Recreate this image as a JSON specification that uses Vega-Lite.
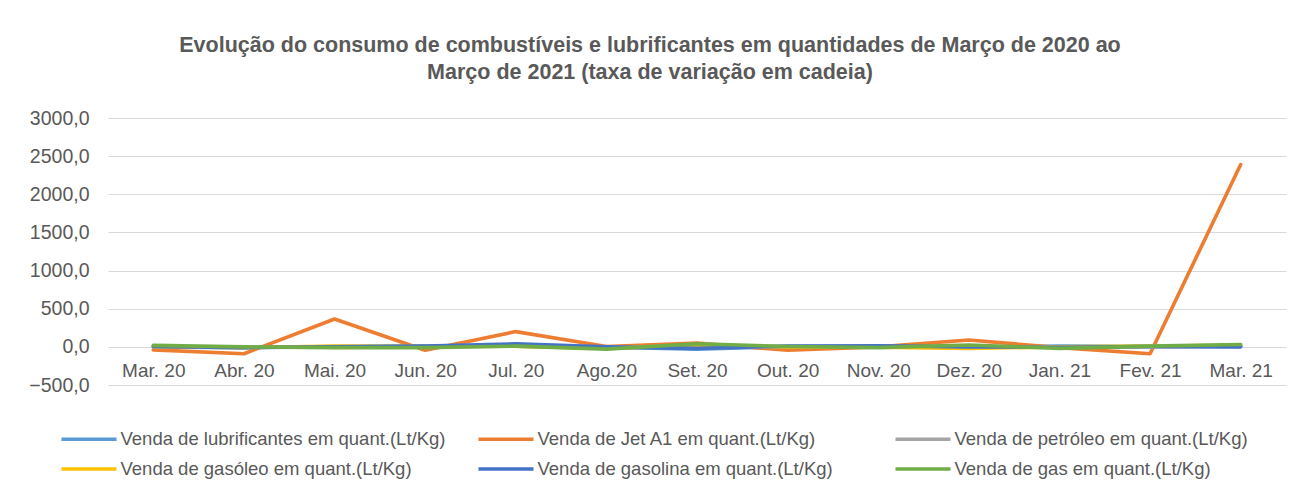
{
  "$schema": "https://vega.github.io/schema/vega-lite/v6.json",
  "width": 1178,
  "height": 267,
  "autosize": {"type": "none"},
  "padding": {"left": 108, "top": 118, "right": 15, "bottom": 105},
  "background": "white",
  "title": {
    "text": ["Evolução do consumo de combustíveis e lubrificantes em quantidades de Março de 2020 ao", "Março de 2021 (taxa de variação em cadeia)"],
    "anchor": "middle",
    "dx": -47,
    "font": "Liberation Sans",
    "fontSize": 21.5,
    "fontWeight": "bold",
    "color": "#595959",
    "lineHeight": 27,
    "offset": 25
  },
  "data": {
    "values": [
      {"mes": "Mar. 20", "serie": "Venda de lubrificantes em quant.(Lt/Kg)", "valor": 0},
      {"mes": "Abr. 20", "serie": "Venda de lubrificantes em quant.(Lt/Kg)", "valor": -10},
      {"mes": "Mai. 20", "serie": "Venda de lubrificantes em quant.(Lt/Kg)", "valor": 5},
      {"mes": "Jun. 20", "serie": "Venda de lubrificantes em quant.(Lt/Kg)", "valor": 10},
      {"mes": "Jul. 20", "serie": "Venda de lubrificantes em quant.(Lt/Kg)", "valor": 20},
      {"mes": "Ago.20", "serie": "Venda de lubrificantes em quant.(Lt/Kg)", "valor": -5},
      {"mes": "Set. 20", "serie": "Venda de lubrificantes em quant.(Lt/Kg)", "valor": -30},
      {"mes": "Out. 20", "serie": "Venda de lubrificantes em quant.(Lt/Kg)", "valor": 5},
      {"mes": "Nov. 20", "serie": "Venda de lubrificantes em quant.(Lt/Kg)", "valor": 0},
      {"mes": "Dez. 20", "serie": "Venda de lubrificantes em quant.(Lt/Kg)", "valor": -10},
      {"mes": "Jan. 21", "serie": "Venda de lubrificantes em quant.(Lt/Kg)", "valor": 10},
      {"mes": "Fev. 21", "serie": "Venda de lubrificantes em quant.(Lt/Kg)", "valor": 5},
      {"mes": "Mar. 21", "serie": "Venda de lubrificantes em quant.(Lt/Kg)", "valor": 5},
      {"mes": "Mar. 20", "serie": "Venda de Jet A1 em quant.(Lt/Kg)", "valor": -40},
      {"mes": "Abr. 20", "serie": "Venda de Jet A1 em quant.(Lt/Kg)", "valor": -90},
      {"mes": "Mai. 20", "serie": "Venda de Jet A1 em quant.(Lt/Kg)", "valor": 365},
      {"mes": "Jun. 20", "serie": "Venda de Jet A1 em quant.(Lt/Kg)", "valor": -45},
      {"mes": "Jul. 20", "serie": "Venda de Jet A1 em quant.(Lt/Kg)", "valor": 200},
      {"mes": "Ago.20", "serie": "Venda de Jet A1 em quant.(Lt/Kg)", "valor": 5},
      {"mes": "Set. 20", "serie": "Venda de Jet A1 em quant.(Lt/Kg)", "valor": 50},
      {"mes": "Out. 20", "serie": "Venda de Jet A1 em quant.(Lt/Kg)", "valor": -45},
      {"mes": "Nov. 20", "serie": "Venda de Jet A1 em quant.(Lt/Kg)", "valor": 0},
      {"mes": "Dez. 20", "serie": "Venda de Jet A1 em quant.(Lt/Kg)", "valor": 90},
      {"mes": "Jan. 21", "serie": "Venda de Jet A1 em quant.(Lt/Kg)", "valor": -10},
      {"mes": "Fev. 21", "serie": "Venda de Jet A1 em quant.(Lt/Kg)", "valor": -90},
      {"mes": "Mar. 21", "serie": "Venda de Jet A1 em quant.(Lt/Kg)", "valor": 2390},
      {"mes": "Mar. 20", "serie": "Venda de petróleo em quant.(Lt/Kg)", "valor": 0},
      {"mes": "Abr. 20", "serie": "Venda de petróleo em quant.(Lt/Kg)", "valor": -5},
      {"mes": "Mai. 20", "serie": "Venda de petróleo em quant.(Lt/Kg)", "valor": 0},
      {"mes": "Jun. 20", "serie": "Venda de petróleo em quant.(Lt/Kg)", "valor": 5},
      {"mes": "Jul. 20", "serie": "Venda de petróleo em quant.(Lt/Kg)", "valor": 10},
      {"mes": "Ago.20", "serie": "Venda de petróleo em quant.(Lt/Kg)", "valor": -10},
      {"mes": "Set. 20", "serie": "Venda de petróleo em quant.(Lt/Kg)", "valor": 10},
      {"mes": "Out. 20", "serie": "Venda de petróleo em quant.(Lt/Kg)", "valor": 0},
      {"mes": "Nov. 20", "serie": "Venda de petróleo em quant.(Lt/Kg)", "valor": 0},
      {"mes": "Dez. 20", "serie": "Venda de petróleo em quant.(Lt/Kg)", "valor": 5},
      {"mes": "Jan. 21", "serie": "Venda de petróleo em quant.(Lt/Kg)", "valor": -5},
      {"mes": "Fev. 21", "serie": "Venda de petróleo em quant.(Lt/Kg)", "valor": 0},
      {"mes": "Mar. 21", "serie": "Venda de petróleo em quant.(Lt/Kg)", "valor": 10},
      {"mes": "Mar. 20", "serie": "Venda de gasóleo em quant.(Lt/Kg)", "valor": 5},
      {"mes": "Abr. 20", "serie": "Venda de gasóleo em quant.(Lt/Kg)", "valor": -10},
      {"mes": "Mai. 20", "serie": "Venda de gasóleo em quant.(Lt/Kg)", "valor": 10},
      {"mes": "Jun. 20", "serie": "Venda de gasóleo em quant.(Lt/Kg)", "valor": 5},
      {"mes": "Jul. 20", "serie": "Venda de gasóleo em quant.(Lt/Kg)", "valor": 10},
      {"mes": "Ago.20", "serie": "Venda de gasóleo em quant.(Lt/Kg)", "valor": -20},
      {"mes": "Set. 20", "serie": "Venda de gasóleo em quant.(Lt/Kg)", "valor": 20},
      {"mes": "Out. 20", "serie": "Venda de gasóleo em quant.(Lt/Kg)", "valor": 0},
      {"mes": "Nov. 20", "serie": "Venda de gasóleo em quant.(Lt/Kg)", "valor": -5},
      {"mes": "Dez. 20", "serie": "Venda de gasóleo em quant.(Lt/Kg)", "valor": -20},
      {"mes": "Jan. 21", "serie": "Venda de gasóleo em quant.(Lt/Kg)", "valor": 0},
      {"mes": "Fev. 21", "serie": "Venda de gasóleo em quant.(Lt/Kg)", "valor": 10},
      {"mes": "Mar. 21", "serie": "Venda de gasóleo em quant.(Lt/Kg)", "valor": 20},
      {"mes": "Mar. 20", "serie": "Venda de gasolina em quant.(Lt/Kg)", "valor": 5},
      {"mes": "Abr. 20", "serie": "Venda de gasolina em quant.(Lt/Kg)", "valor": -10},
      {"mes": "Mai. 20", "serie": "Venda de gasolina em quant.(Lt/Kg)", "valor": 0},
      {"mes": "Jun. 20", "serie": "Venda de gasolina em quant.(Lt/Kg)", "valor": 10},
      {"mes": "Jul. 20", "serie": "Venda de gasolina em quant.(Lt/Kg)", "valor": 40},
      {"mes": "Ago.20", "serie": "Venda de gasolina em quant.(Lt/Kg)", "valor": 0},
      {"mes": "Set. 20", "serie": "Venda de gasolina em quant.(Lt/Kg)", "valor": -20},
      {"mes": "Out. 20", "serie": "Venda de gasolina em quant.(Lt/Kg)", "valor": 10},
      {"mes": "Nov. 20", "serie": "Venda de gasolina em quant.(Lt/Kg)", "valor": 15},
      {"mes": "Dez. 20", "serie": "Venda de gasolina em quant.(Lt/Kg)", "valor": 0},
      {"mes": "Jan. 21", "serie": "Venda de gasolina em quant.(Lt/Kg)", "valor": -5},
      {"mes": "Fev. 21", "serie": "Venda de gasolina em quant.(Lt/Kg)", "valor": 5},
      {"mes": "Mar. 21", "serie": "Venda de gasolina em quant.(Lt/Kg)", "valor": 0},
      {"mes": "Mar. 20", "serie": "Venda de gas em quant.(Lt/Kg)", "valor": 20},
      {"mes": "Abr. 20", "serie": "Venda de gas em quant.(Lt/Kg)", "valor": 0},
      {"mes": "Mai. 20", "serie": "Venda de gas em quant.(Lt/Kg)", "valor": -10},
      {"mes": "Jun. 20", "serie": "Venda de gas em quant.(Lt/Kg)", "valor": -10},
      {"mes": "Jul. 20", "serie": "Venda de gas em quant.(Lt/Kg)", "valor": 10},
      {"mes": "Ago.20", "serie": "Venda de gas em quant.(Lt/Kg)", "valor": -30},
      {"mes": "Set. 20", "serie": "Venda de gas em quant.(Lt/Kg)", "valor": 40},
      {"mes": "Out. 20", "serie": "Venda de gas em quant.(Lt/Kg)", "valor": 5},
      {"mes": "Nov. 20", "serie": "Venda de gas em quant.(Lt/Kg)", "valor": -10},
      {"mes": "Dez. 20", "serie": "Venda de gas em quant.(Lt/Kg)", "valor": 25},
      {"mes": "Jan. 21", "serie": "Venda de gas em quant.(Lt/Kg)", "valor": -20},
      {"mes": "Fev. 21", "serie": "Venda de gas em quant.(Lt/Kg)", "valor": 10},
      {"mes": "Mar. 21", "serie": "Venda de gas em quant.(Lt/Kg)", "valor": 30}
    ]
  },
  "mark": {"type": "line", "strokeWidth": 3.6, "strokeCap": "round", "strokeJoin": "round"},
  "encoding": {
    "x": {
      "field": "mes",
      "type": "ordinal",
      "sort": null,
      "scale": {"type": "point", "padding": 0.5},
      "axis": {
        "title": null,
        "labelAngle": 0,
        "labelFont": "Liberation Sans",
        "labelFontSize": 19,
        "labelColor": "#595959",
        "domain": false,
        "ticks": false,
        "grid": false,
        "offset": -38,
        "labelPadding": 14
      }
    },
    "y": {
      "field": "valor",
      "type": "quantitative",
      "scale": {"domain": [-500, 3000], "nice": false, "zero": false},
      "axis": {
        "title": null,
        "values": [-500, 0, 500, 1000, 1500, 2000, 2500, 3000],
        "labelExpr": "replace(format(datum.value, '.1f'), '.', ',')",
        "labelFont": "Liberation Sans",
        "labelFontSize": 19.5,
        "labelColor": "#595959",
        "labelPadding": 19,
        "domain": false,
        "ticks": false,
        "grid": true,
        "gridColor": "#D9D9D9",
        "gridWidth": 1
      }
    },
    "color": {
      "field": "serie",
      "type": "nominal",
      "scale": {
        "domain": ["Venda de lubrificantes em quant.(Lt/Kg)", "Venda de Jet A1 em quant.(Lt/Kg)", "Venda de petróleo em quant.(Lt/Kg)", "Venda de gasóleo em quant.(Lt/Kg)", "Venda de gasolina em quant.(Lt/Kg)", "Venda de gas em quant.(Lt/Kg)"],
        "range": ["#5B9BD5", "#ED7D31", "#A5A5A5", "#FFC000", "#4472C4", "#70AD47"]
      },
      "legend": {
        "title": null,
        "orient": "none",
        "legendX": -37,
        "legendY": 303,
        "direction": "horizontal",
        "columns": 3,
        "gridAlign": "all",
        "columnPadding": 25,
        "rowPadding": 2,
        "symbolType": "M-1.72,0H1.72",
        "symbolSize": 1024,
        "symbolStrokeWidth": 3.6,
        "labelFont": "Liberation Sans",
        "labelFontSize": 18.5,
        "labelColor": "#595959",
        "labelOffset": 13.5,
        "labelLimit": 500
      }
    }
  },
  "config": {"view": {"stroke": null}}
}
